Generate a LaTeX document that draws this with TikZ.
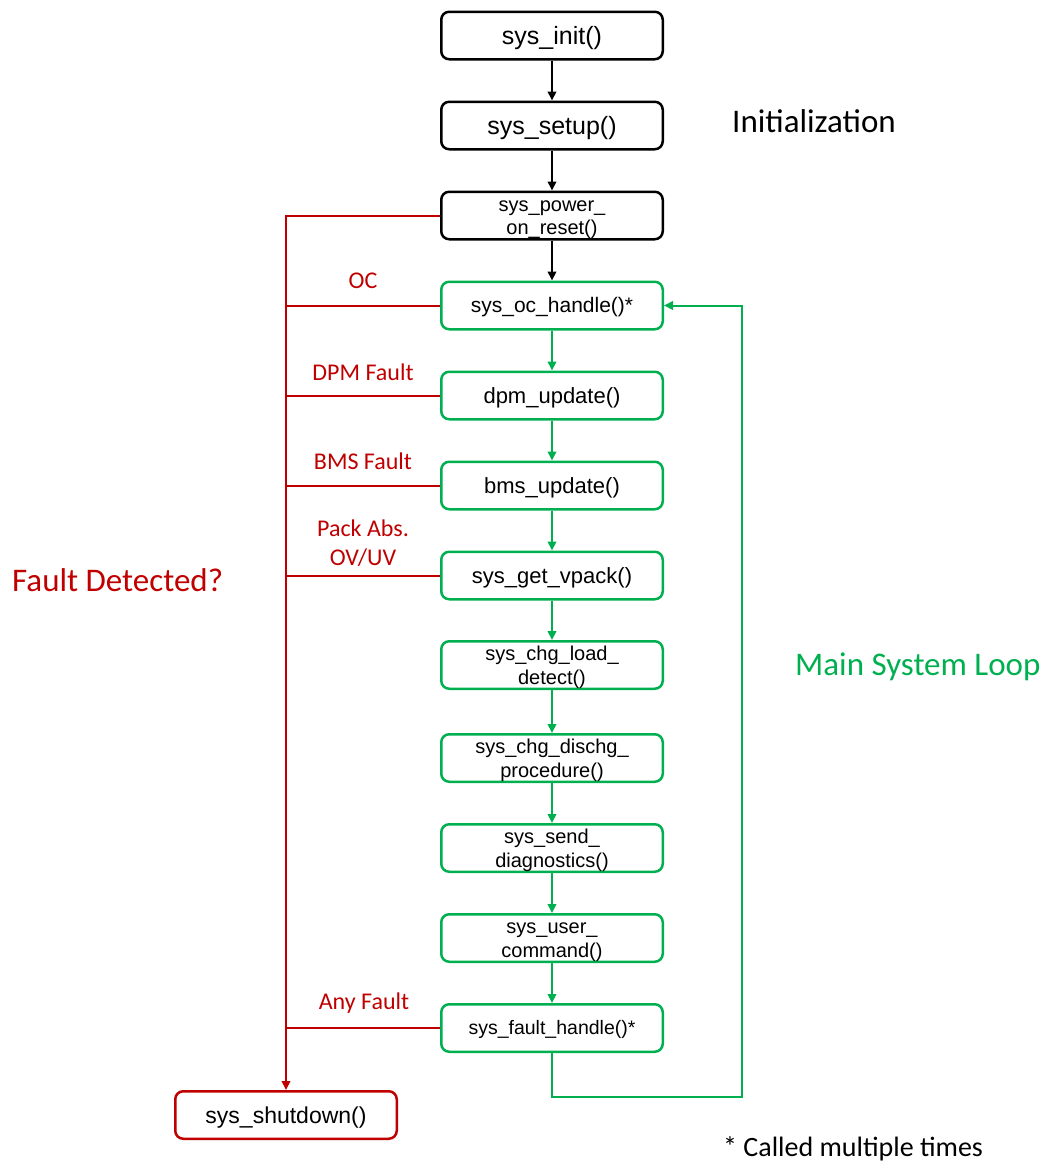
\documentclass[tikz,border=0pt]{standalone}
\usepackage{fontspec}
\setmainfont{Liberation Sans}
\newfontfamily\calfont{Carlito}
\usetikzlibrary{arrows.meta}
\definecolor{fred}{HTML}{C00000}
\definecolor{fgreen}{HTML}{00B050}
\newcommand\firstline{\rule{0pt}{19.5pt}}
\begin{document}
\begin{tikzpicture}[x=1pt,y=-1pt,
  box/.style={draw, rounded corners=8pt, line width=2.5pt, minimum width=221.5pt,
    minimum height=47.5pt, inner sep=0pt, align=center, fill=white},
  blkbox/.style={box, draw=black},
  grnbox/.style={box, draw=fgreen},
  redbox/.style={box, draw=fred},
  fbig/.style={font=\fontsize{25}{29}\selectfont, text height=22.7pt, text depth=5.2pt},
  fmid/.style={font=\fontsize{22}{26}\selectfont, text height=20pt, text depth=4.6pt},
  fsml/.style={font=\fontsize{20}{23.5}\selectfont},
  tip/.style={-{Triangle[length=9pt,width=8.5pt]}},
  bline/.style={line width=2pt, draw=black},
  gline/.style={line width=2pt, draw=fgreen},
  rline/.style={line width=2pt, draw=fred},
  lab/.style={font=\calfont\fontsize{24}{29}\selectfont, text=fred, anchor=base, inner sep=0pt},
  big/.style={font=\calfont\fontsize{33}{40}\selectfont, anchor=base west, inner sep=0pt}
]
\useasboundingbox (0,0) rectangle (1052,1162);

% boxes
\node[blkbox, fbig] (init)  at (552,35.5)  {sys\_init()};
\node[blkbox, fbig] (setup) at (552,125.5) {sys\_setup()};
\node[blkbox, fsml] (power) at (552,215.5) {\firstline sys\_power\_\\on\_reset()};
\node[grnbox, font=\fontsize{21}{25}\selectfont, text height=19.1pt, text depth=4.4pt] (oc) at (552,305.5) {sys\_oc\_handle()*};
\node[grnbox, fmid] (dpm)   at (552,395.5) {dpm\_update()};
\node[grnbox, fmid] (bms)   at (552,485.5) {bms\_update()};
\node[grnbox, fmid] (vpack) at (552,575.5) {sys\_get\_vpack()};
\node[grnbox, fsml] (load)  at (552,665)   {\firstline sys\_chg\_load\_\\detect()};
\node[grnbox, fsml] (dis)   at (552,758)   {\firstline sys\_chg\_dischg\_\\procedure()};
\node[grnbox, fsml] (diag)  at (552,848)   {\firstline sys\_send\_\\diagnostics()};
\node[grnbox, fsml] (user)  at (552,938)   {\firstline sys\_user\_\\command()};
\node[grnbox, font=\fontsize{19.5}{23}\selectfont, text height=17.7pt, text depth=4.1pt] (fault) at (552,1028) {sys\_fault\_handle()*};
\node[redbox, font=\fontsize{23}{27}\selectfont, text height=20.9pt, text depth=4.8pt] (shut) at (286,1115) {sys\_shutdown()};

% black flow
\draw[bline, tip] (init) -- (setup);
\draw[bline, tip] (setup) -- (power);
\draw[bline, tip] (power) -- (oc);

% green flow
\draw[gline, tip] (oc) -- (dpm);
\draw[gline, tip] (dpm) -- (bms);
\draw[gline, tip] (bms) -- (vpack);
\draw[gline, tip] (vpack) -- (load);
\draw[gline, tip] (load) -- (dis);
\draw[gline, tip] (dis) -- (diag);
\draw[gline, tip] (diag) -- (user);
\draw[gline, tip] (user) -- (fault);
\coordinate (lb) at (742,1097);
\draw[gline, tip] (fault.south) |- (lb) |- (oc.east);

% red fault paths
\draw[rline, tip] (power.west) -| (shut.north);
\draw[rline] (oc.west) -- (oc.west -| shut.north);
\draw[rline] (dpm.west) -- (dpm.west -| shut.north);
\draw[rline] (bms.west) -- (bms.west -| shut.north);
\draw[rline] (vpack.west) -- (vpack.west -| shut.north);
\draw[rline] (fault.west) -- (fault.west -| shut.north);

% labels
\node[lab] (lOC)  at (363,288)   {OC};
\node[lab] (lDPM) at (363,380)   {DPM Fault};
\node[lab] (lBMS) at (363,469.5) {BMS Fault};
\node[lab] (lPA)  at (363,536)   {Pack Abs.};
\node[lab] (lOV)  at (363,565)   {OV/UV};
\node[lab] (lAny) at (364,1009)  {Any Fault};

\node[big] (tInit)  at (732,132.7) {Initialization};
\node[big, text=fred] (tFault) at (12,591.7) {Fault Detected?};
\node[big, text=fgreen] (tLoop) at (795,675) {Main System Loop};
\node[big, font=\calfont\fontsize{28}{34}\selectfont] (tNote) at (723,1156.5) {* Called multiple times};
\end{tikzpicture}
\end{document}
